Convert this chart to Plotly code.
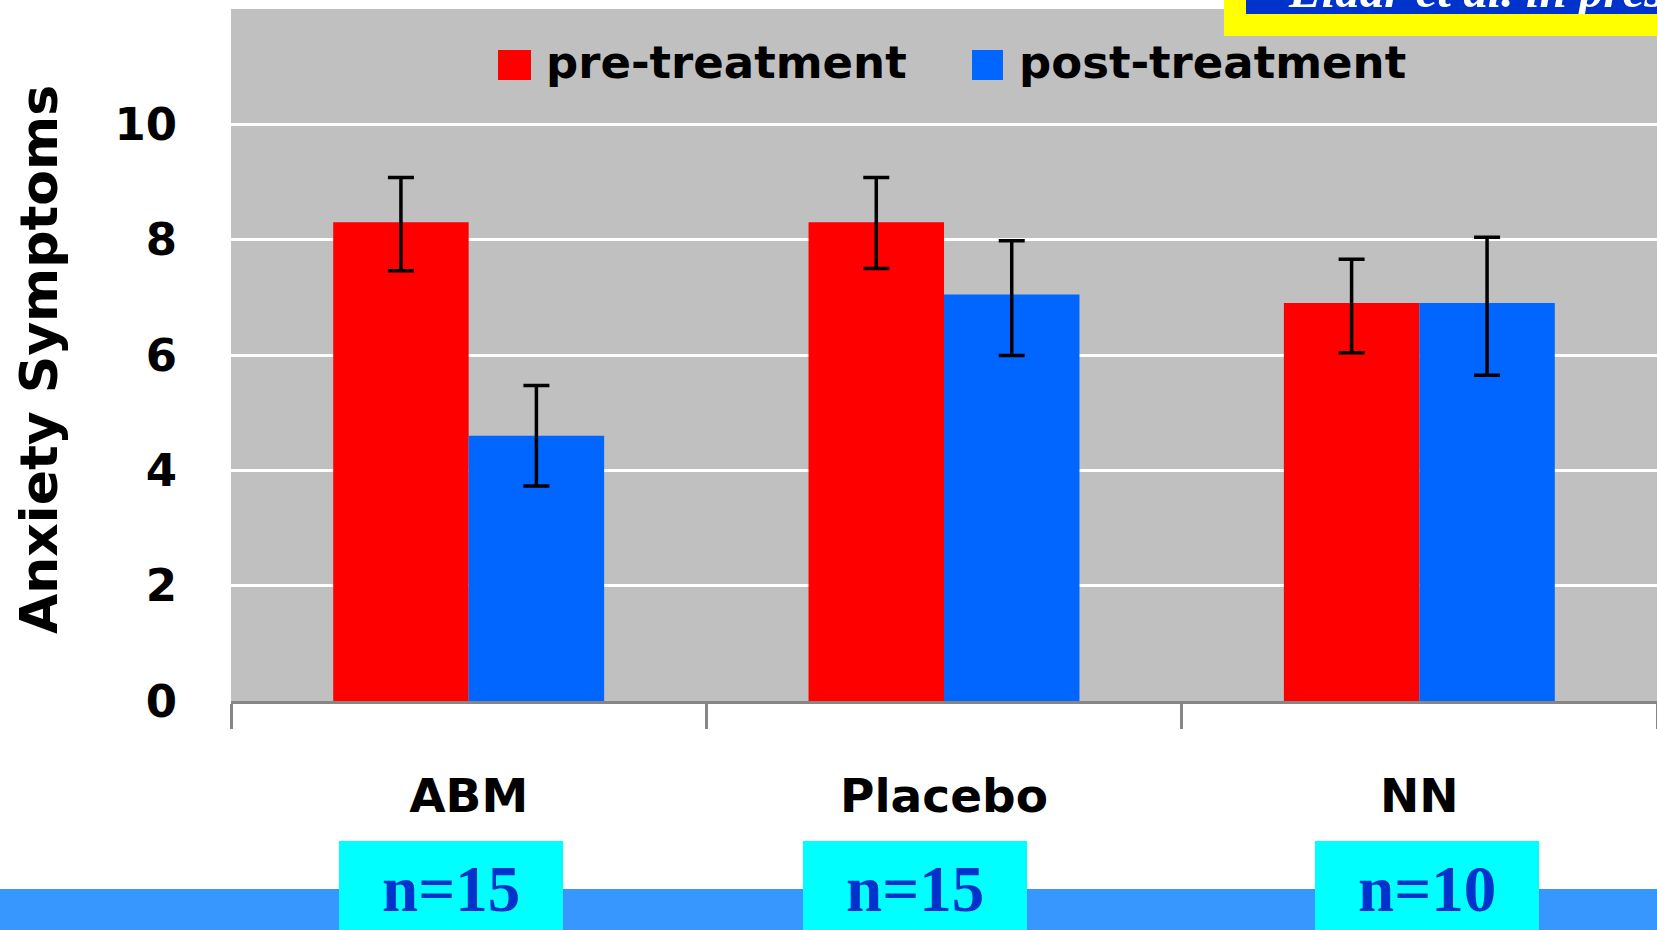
import plotly.graph_objects as go

# ---------------- data ----------------
categories = ["ABM", "Placebo", "NN"]
series_names = ["pre-treatment", "post-treatment"]
pre_values = [8.3, 8.3, 6.9]
pre_err_plus = [0.78, 0.78, 0.76]
pre_err_minus = [0.84, 0.80, 0.86]
post_values = [4.6, 7.05, 6.9]
post_err_plus = [0.87, 0.93, 1.14]
post_err_minus = [0.87, 1.06, 1.25]
y_tick_values = [0, 2, 4, 6, 8, 10]
y_tick_labels = ["0", "2", "4", "6", "8", "10"]
y_title = "Anxiety Symptoms"
n_labels = ["n=15", "n=15", "n=10"]
citation = "Eldar et al. in press"

# ---------------- styling ----------------
W, H = 1657, 930
L, R, T, B = 231, 0, 9, 229
PW = W - L - R
PH = H - T - B
RED = "#FF0000"
BLUE = "#0066FF"
SANS = "DejaVu Sans"
SERIF = "Liberation Serif"


def xp(px):
    return (px - L) / PW


def yp(py):
    return (H - B - py) / PH


err_style = dict(type="data", symmetric=False, color="black", thickness=3.5, width=13)

fig = go.Figure()
fig.add_trace(go.Bar(
    x=categories, y=pre_values, name=series_names[0], marker=dict(color=RED, line=dict(width=0)),
    error_y=dict(array=pre_err_plus, arrayminus=pre_err_minus, **err_style),
))
fig.add_trace(go.Bar(
    x=categories, y=post_values, name=series_names[1], marker=dict(color=BLUE, line=dict(width=0)),
    error_y=dict(array=post_err_plus, arrayminus=post_err_minus, **err_style),
))

shapes = []
annotations = []

# legend (manual, large square swatches)
legend_items = [
    (series_names[0], RED, 498, 531, 548),
    (series_names[1], BLUE, 972, 1003, 1021),
]
for name, col, x0, x1, tx in legend_items:
    shapes.append(dict(type="rect", xref="paper", yref="paper", x0=xp(x0), x1=xp(x1),
                       y0=yp(80), y1=yp(50), fillcolor=col, line=dict(width=0), layer="above"))
    annotations.append(dict(text=name, xref="paper", yref="paper", x=xp(tx - 4), y=yp(91),
                            xanchor="left", yanchor="bottom", showarrow=False,
                            font=dict(family=SANS, size=45, color="black", weight="bold")))

# y-axis title
annotations.append(dict(text=y_title, xref="paper", yref="paper", x=xp(39), y=yp(360),
                        xanchor="center", yanchor="middle", textangle=-90, showarrow=False,
                        font=dict(family=SANS, size=52, color="black", weight="bold")))

# bottom band and n boxes
shapes.append(dict(type="rect", xref="paper", yref="paper", x0=xp(0), x1=xp(W), y0=yp(H), y1=yp(889),
                   fillcolor="#3797FF", line=dict(width=0), layer="above"))
box_lefts = [339, 803, 1315]
for bx, lab in zip(box_lefts, n_labels):
    shapes.append(dict(type="rect", xref="paper", yref="paper", x0=xp(bx), x1=xp(bx + 224),
                       y0=yp(H), y1=yp(841), fillcolor="#00FFFF", line=dict(width=0), layer="above"))
    annotations.append(dict(text=lab, xref="paper", yref="paper", x=xp(bx + 112), y=yp(927),
                            xanchor="center", yanchor="bottom", showarrow=False,
                            font=dict(family=SERIF, size=65, color="#0033CC", weight="bold")))

# top-right citation box (mostly cut off, as in the original slide)
shapes.append(dict(type="rect", xref="paper", yref="paper", x0=xp(1224), x1=xp(W), y0=yp(36), y1=yp(-2),
                   fillcolor="#FFFF00", line=dict(width=0), layer="above"))
shapes.append(dict(type="rect", xref="paper", yref="paper", x0=xp(1246), x1=xp(W), y0=yp(14), y1=yp(-2),
                   fillcolor="#0033CC", line=dict(width=0), layer="above"))
annotations.append(dict(text="<b><i>" + citation + "</i></b>", xref="paper", yref="paper",
                        x=xp(1286), y=yp(20), xanchor="left", yanchor="bottom", showarrow=False,
                        font=dict(family=SERIF, size=49, color="white")))
annotations.append(dict(text=" ", xref="paper", yref="paper", x=xp(1246), y=yp(14),
                        xanchor="left", yanchor="top", showarrow=False, width=420, height=22,
                        bgcolor="#FFFF00", borderpad=0, borderwidth=0, font=dict(size=10)))

fig.update_layout(
    width=W, height=H,
    margin=dict(l=L, r=R, t=T, b=B, pad=0),
    paper_bgcolor="white",
    plot_bgcolor="#C0C0C0",
    barmode="group",
    bargap=0.43,
    bargroupgap=0,
    showlegend=False,
    shapes=shapes,
    annotations=annotations,
)
fig.update_xaxes(
    type="category", range=[-0.5, 2.5], tickson="boundaries",
    ticks="outside", ticklen=25, tickwidth=3, tickcolor="#868686",
    showline=True, linecolor="#868686", linewidth=3,
    showgrid=False, ticklabelstandoff=52,
    tickfont=dict(family=SANS, size=47, color="black", weight="bold"),
)
fig.update_yaxes(
    range=[0, 12], tickvals=y_tick_values, ticktext=y_tick_labels,
    showgrid=True, gridcolor="white", gridwidth=3, zeroline=False,
    showline=False, ticks="", ticklabelstandoff=53,
    tickfont=dict(family=SANS, size=45, color="black", weight="bold"),
)

fig.write_html("out.html", config={"displayModeBar": False},
               post_script="document.body.style.margin='0';document.body.style.overflow='hidden';")
